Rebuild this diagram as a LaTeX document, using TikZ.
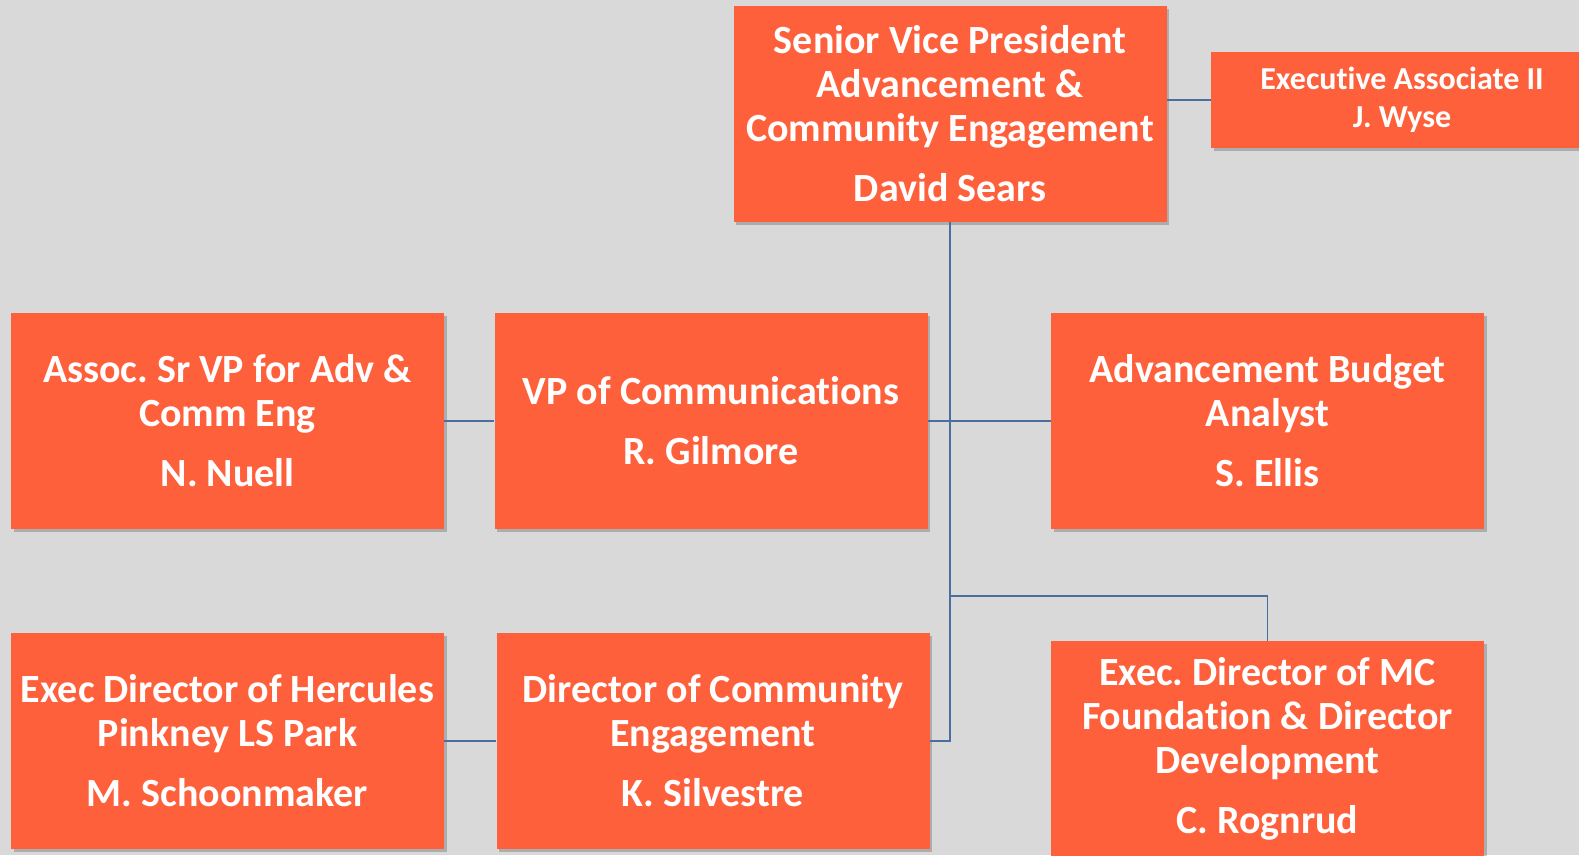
\documentclass[tikz,border=0pt]{standalone}
\usepackage{fontspec}
\setmainfont{Carlito}[RawFeature={-liga;-dlig}]
\usetikzlibrary{shadows}
\frenchspacing
\definecolor{bgc}{RGB}{217,217,217}
\definecolor{boxc}{RGB}{255,96,60}
\definecolor{lnc}{RGB}{74,110,160}
\begin{document}
\begin{tikzpicture}[x=1pt,y=-1pt,
  orgbox/.style={fill=boxc, text=white, align=center, inner sep=0pt,
    font=\frenchspacing\bfseries\fontsize{40}{44}\selectfont,
    minimum width=433pt, minimum height=216pt,
    drop shadow={shadow xshift=2.5pt, shadow yshift=-3pt, opacity=0.2, fill=black}},
  smallbox/.style={orgbox, font=\frenchspacing\bfseries\fontsize{32}{38}\selectfont,
    minimum width=382pt, minimum height=96pt},
  conn/.style={draw=lnc, line width=1.6pt}]
\fill[bgc] (0,0) rectangle (1579,855);
\useasboundingbox (0,0) rectangle (1579,855);

\node[orgbox] (svp) at (950,114) {Senior Vice President\\Advancement \&\\Community Engagement\\[16pt]David Sears};
\node[smallbox] (ea) at (1402,100) {Executive Associate II\\J. Wyse};

\node[orgbox] (asvp) at (227.5,421) {Assoc. Sr VP for Adv \&\\Comm Eng\\[16pt]N. Nuell};
\node[orgbox] (vpc) at (711,421) {VP of Communications\\[16pt]R. Gilmore};
\node[orgbox] (aba) at (1267.5,421) {Advancement Budget\\Analyst\\[16pt]S. Ellis};

\node[orgbox] (herc) at (227.5,741) {Exec Director of Hercules\\Pinkney LS Park\\[16pt]M. Schoonmaker};
\node[orgbox] (dce) at (713,741) {Director of Community\\Engagement\\[16pt]K. Silvestre};
\node[orgbox] (mcf) at (1267.5,749) {Exec. Director of MC\\Foundation \& Director\\Development\\[16pt]C. Rognrud};

\coordinate (tb) at (svp.south |- dce.east);
\coordinate (br) at (950,596);

\draw[conn] (ea.west) -- (ea.west -| svp.east);
\draw[conn] (svp.south) -- (tb) -- (dce.east);
\draw[conn] (asvp.east) -- (vpc.west);
\draw[conn] (vpc.east) -- (aba.west);
\draw[conn] (br) -- (br -| mcf.north) -- (mcf.north);
\draw[conn] (herc.east) -- (dce.west);
\end{tikzpicture}
\end{document}
